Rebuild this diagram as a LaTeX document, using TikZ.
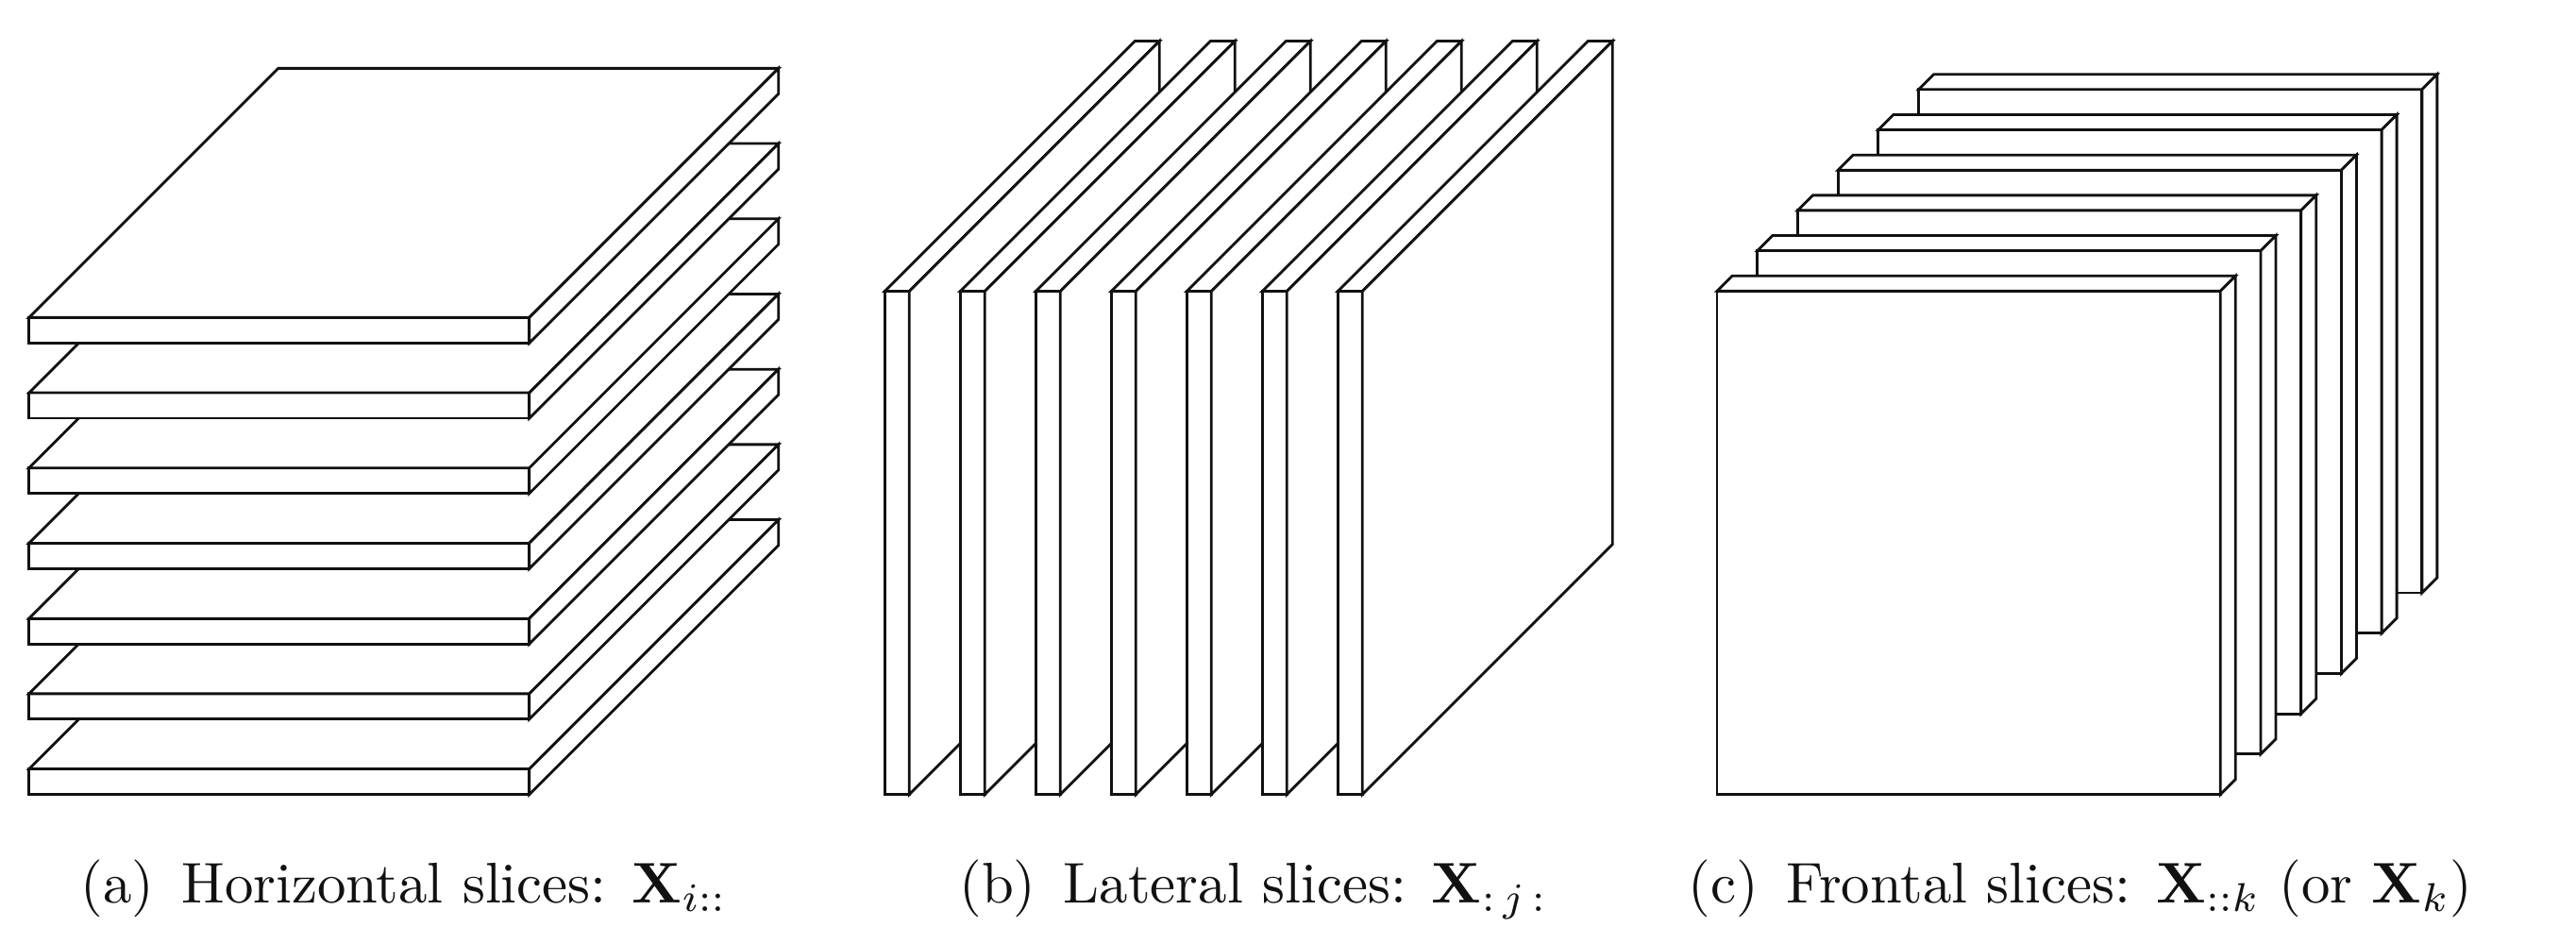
\documentclass[tikz,border=0pt]{standalone}
\usepackage{amsmath}
\usepackage{tikz}
\usepackage{xcolor}
\definecolor{slabink}{HTML}{111111}
\tikzset{
  slabface/.style={draw=slabink, fill=white, line width=0.8pt, line join=miter},
  caplabel/.style={anchor=base, inner sep=0pt, scale=1.73, transform shape, text=slabink}
}
% cuboid: front lower-left x, y, width, height, depth (45 deg)
\newcommand{\drawslab}[5]{%
  \draw[slabface] (#1,#2) rectangle ++(#3,#4);
  \draw[slabface] (#1,#2+#4) -- ++(#5,#5) -- ++(#3,0) -- ++(-#5,-#5) -- cycle;
  \draw[slabface] (#1+#3,#2) -- ++(#5,#5) -- ++(0,#4) -- ++(-#5,-#5) -- cycle;
}
\newcommand{\sublab}[1]{(#1)\hspace{0.15em} }

\begin{document}
\begin{tikzpicture}
\useasboundingbox (0,0) rectangle (27.29,10);
% (a) horizontal
\foreach \i in {0,...,6} {
  \pgfmathsetmacro{\yy}{1.584+0.797*\i}
  \drawslab{0.307}{\yy}{5.30}{0.27}{2.64}
}
% (b) lateral
\foreach \i in {0,...,6} {
  \pgfmathsetmacro{\xx}{9.373+0.80*\i}
  \drawslab{\xx}{1.584}{0.26}{5.33}{2.65}
}
% (c) frontal
\foreach \i in {5,4,...,0} {
  \pgfmathsetmacro{\xx}{18.19+0.427*\i}
  \pgfmathsetmacro{\yy}{1.584+0.427*\i}
  \drawslab{\xx}{\yy}{5.333}{5.333}{0.16}
}
\node[caplabel] (capa) at (4.28,0.433) {\sublab{a}Horizontal slices: $\mathbf{X}_{i::}$};
\node[caplabel] (capb) at (13.28,0.433) {\sublab{b}Lateral slices: $\mathbf{X}_{:\,j\,:}$};
\node[caplabel] (capc) at (22.04,0.433) {\sublab{c}Frontal slices: $\mathbf{X}_{::k}$ (or $\mathbf{X}_k$)};
\end{tikzpicture}
\end{document}
